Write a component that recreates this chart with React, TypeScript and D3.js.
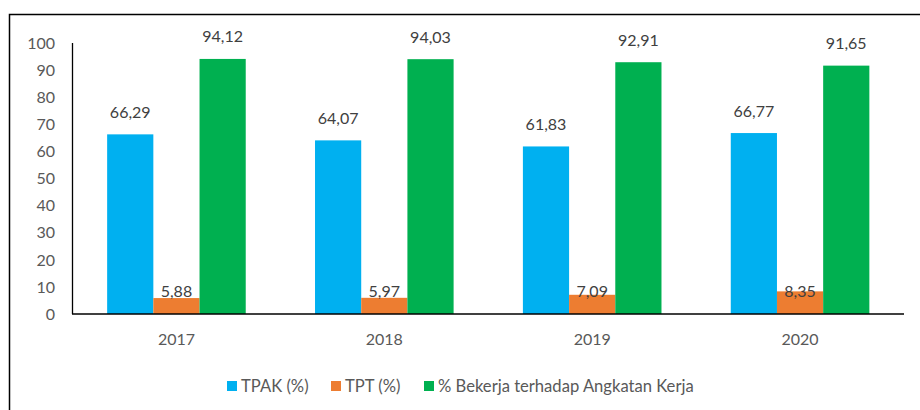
import React from "react";
import * as d3 from "d3";

const categories = ["2017", "2018", "2019", "2020"];
const seriesNames = ["TPAK (%)", "TPT (%)", "% Bekerja terhadap Angkatan Kerja"];
const tpak = [66.29, 64.07, 61.83, 66.77];
const tpt = [5.88, 5.97, 7.09, 8.35];
const bekerja = [94.12, 94.03, 92.91, 91.65];
const yTicks = [0, 10, 20, 30, 40, 50, 60, 70, 80, 90, 100];
const colors = ["#00B0F0", "#ED7D31", "#00B050"];

const W = 920;
const H = 410;
const FONT = "Lato, 'Open Sans', sans-serif";
const TEXT = "#595959";

export default function App() {
  const series = [tpak, tpt, bekerja];
  const x0 = d3.scaleBand<string>().domain(categories).range([72.5, 904]).paddingInner(0).paddingOuter(0);
  const gw = x0.bandwidth();
  const barW = gw / (3 + 1.5);
  const y = d3.scaleLinear().domain([0, 100]).range([314, 43]);
  const fmt = (v: number) => v.toFixed(2).replace(".", ",");

  const legendX = [227, 331, 424];

  return (
    <svg
      width={W}
      height={H}
      style={{ position: "absolute", left: 0, top: 0, background: "#fff" }}
      fontFamily={FONT}
    >
      <rect x={9.5} y={14.5} width={W + 20} height={H + 20} fill="none" stroke="#000" strokeWidth={1.5} />
      {yTicks.map((t) => (
        <text key={t} x={55} y={y(t)} dy="0.36em" textAnchor="end" fontSize={16} fill={TEXT}>
          {t}
        </text>
      ))}
      {categories.map((c, i) => {
        const gx = x0(c)! + gw / 2 - 1.5 * barW;
        return (
          <g key={c}>
            {series.map((s, k) => {
              const v = s[i];
              const bx = gx + k * barW;
              const ly = k === 1 ? y(0) - 17 : y(v) - 16.5;
              return (
                <g key={k}>
                  <rect x={bx} y={y(v)} width={barW} height={y(0) - y(v)} fill={colors[k]} />
                  <text x={bx + barW / 2} y={ly} textAnchor="middle" fontSize={16} fill="#404040">
                    {fmt(v)}
                  </text>
                </g>
              );
            })}
            <text x={x0(c)! + gw / 2} y={345} textAnchor="middle" fontSize={16} fill={TEXT}>
              {c}
            </text>
          </g>
        );
      })}
      <line x1={72.5} x2={72.5} y1={43} y2={314} stroke="#000" strokeWidth={1.3} />
      <line x1={72} x2={904} y1={314} y2={314} stroke="#000" strokeWidth={1.5} />
      {seriesNames.map((n, k) => (
        <g key={n}>
          <rect x={legendX[k]} y={381} width={10} height={10} fill={colors[k]} />
          <text x={legendX[k] + 14} y={392} fontSize={16.6} fill={TEXT}>
            {n}
          </text>
        </g>
      ))}
    </svg>
  );
}
